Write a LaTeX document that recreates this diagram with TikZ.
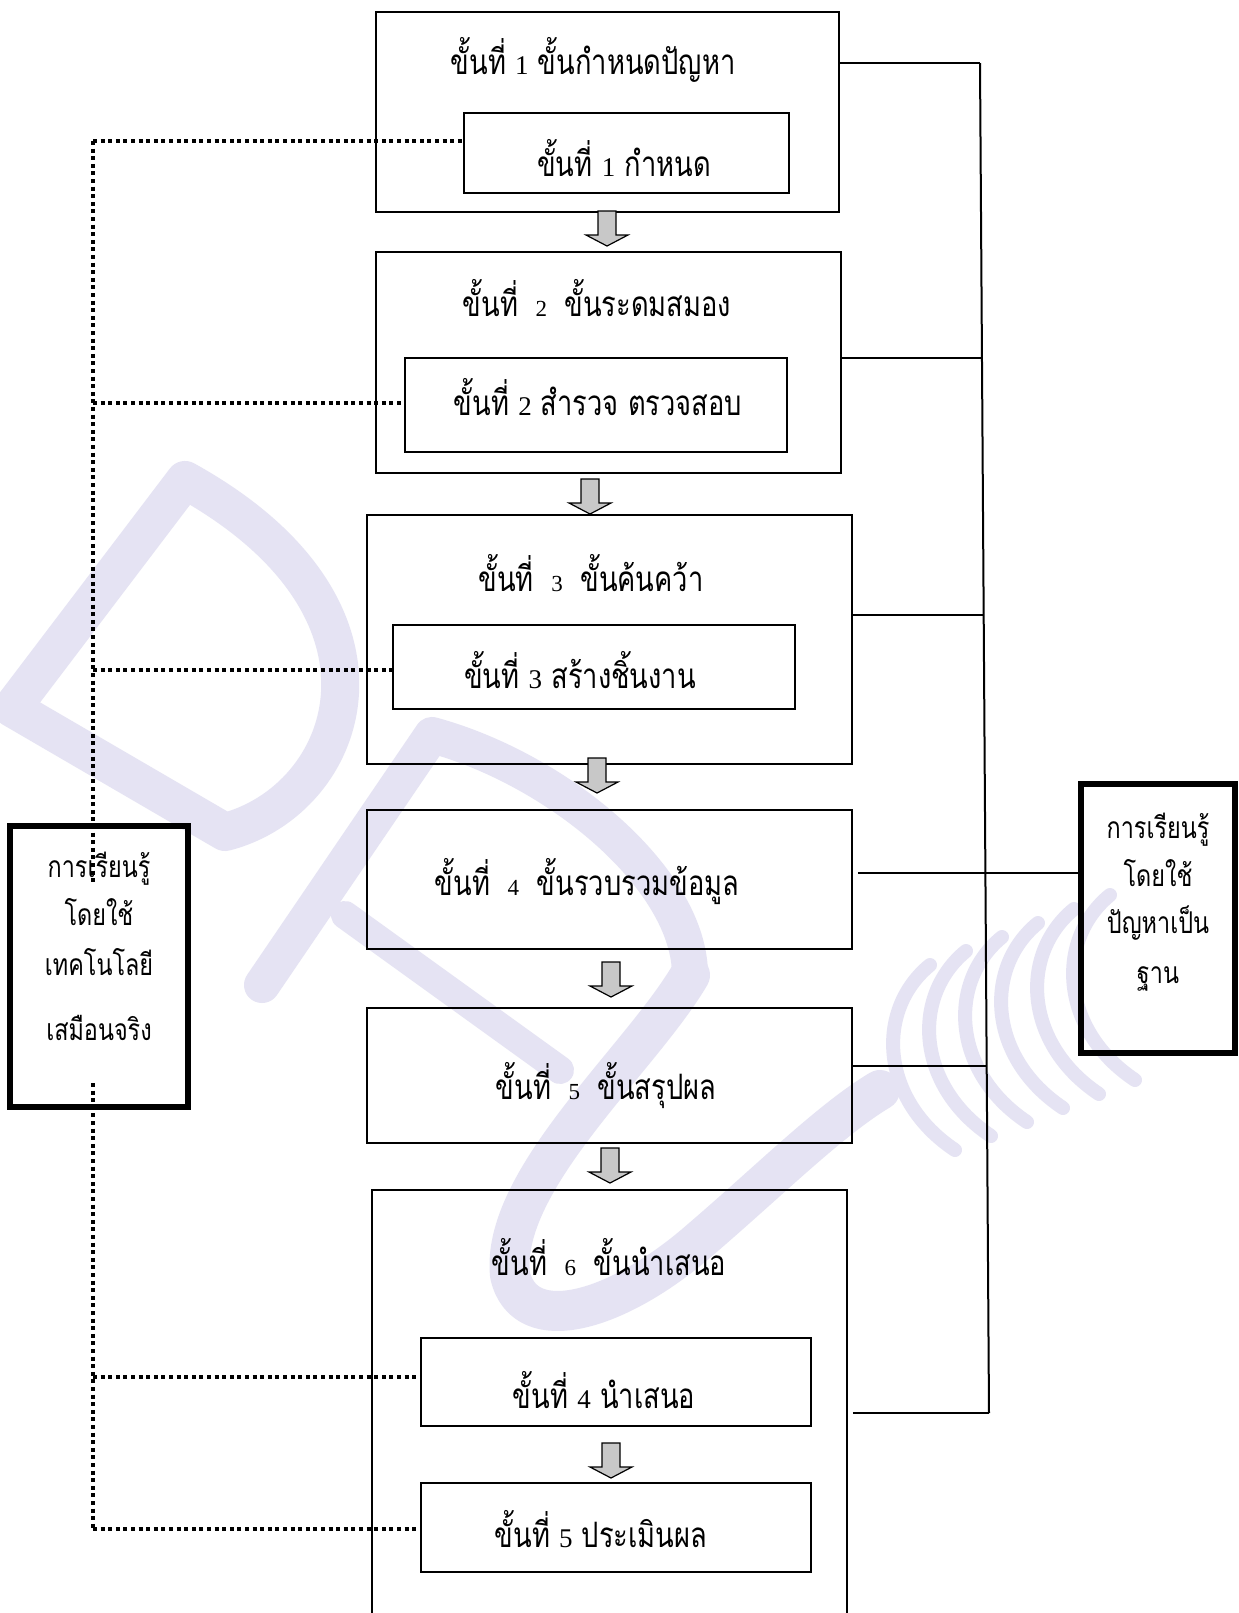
\documentclass[tikz,border=0pt]{standalone}
\usepackage{fontspec}
\setmainfont{Liberation Serif}
\newfontfamily\thaif[Script=Thai, FakeStretch=0.78]{Loma}
\newfontfamily\digf{Liberation Serif}
\usetikzlibrary{fit}
\definecolor{wm}{RGB}{229,227,243}
\definecolor{agray}{RGB}{200,200,200}
\newcommand\dg[1]{{\digf\fontsize{13.5}{15}\selectfont #1}}
\newcommand\dgs[1]{{\digf\fontsize{11.5}{13}\selectfont #1}}
\newcommand\wsp{\hspace{0.5em}}
\tikzset{
  mainbox/.style={draw, line width=0.8pt, inner sep=0pt},
  innerbox/.style={draw, line width=0.8pt, inner sep=0pt},
  sidebox/.style={draw, line width=2.6pt, inner sep=0pt},
  thtext/.style={font=\thaif\fontsize{17.5}{20}\selectfont, inner sep=0pt, anchor=base},
  sidetext/.style={font=\thaif\fontsize{15}{18}\selectfont, inner sep=0pt, anchor=base},
  link/.style={line width=0.75pt},
  dotline/.style={line width=2pt, dash pattern=on 2pt off 1.8pt},
  downarrow/.pic={\draw[fill=agray, line width=0.6pt, line join=miter]
     (-9,0) -- (9,0) -- (9,24) -- (21,24) -- (0,35) -- (-21,24) -- (-9,24) -- cycle;}
}
\begin{document}
\begin{tikzpicture}[x=0.5pt,y=-0.5pt]
\useasboundingbox (0,0) rectangle (1238,1613);
\fill[white] (0,0) rectangle (1238,1613);

% watermark (faint logo)
\begin{scope}[draw=wm, line join=round, line cap=round]
  % D
  \draw[line width=19pt] (185,480) -- (12,708) -- (225,832) .. controls (350,800) and (420,610) .. (185,480) -- cycle;
  % P
  \draw[line width=18pt] (262,985) -- (432,735) .. controls (560,770) and (690,880) .. (690,975);
  \draw[line width=14pt] (345,915) -- (560,1070);
  % U
  \draw[line width=20pt] (690,975) .. controls (640,1060) and (500,1180) .. (510,1275) .. controls (525,1340) and (620,1310) .. (700,1240) .. controls (770,1180) and (830,1120) .. (880,1090);
  % swirl
  \foreach \i in {0,...,5}{
    \draw[line width=7pt] (930+36*\i,965-14*\i) .. controls (875+36*\i,1010-14*\i) and (880+36*\i,1100-14*\i) .. (955+36*\i,1150-14*\i);
  }
\end{scope}

% main boxes
\node[mainbox, fit={(376,12) (839,212)}] (b1) {};
\node[innerbox, fit={(464,113) (789,193)}] (i1) {};
\node[mainbox, fit={(376,252) (841,473)}] (b2) {};
\node[innerbox, fit={(405,358) (787,452)}] (i2) {};
\node[mainbox, fit={(367,515) (852,764)}] (b3) {};
\node[innerbox, fit={(393,625) (795,709)}] (i3) {};
\node[mainbox, fit={(367,810) (852,949)}] (b4) {};
\node[mainbox, fit={(367,1008) (852,1143)}] (b5) {};
\node[mainbox, fit={(372,1190) (847,1640)}] (b6) {};
\node[innerbox, fit={(421,1338) (811,1426)}] (i4) {};
\node[innerbox, fit={(421,1483) (811,1572)}] (i5) {};

% texts
\node[thtext] (t1) at (593,74) {ขั้นที่ \dg{1} ขั้นกำหนดปัญหา};
\node[thtext] (s1) at (624,176) {ขั้นที่ \dg{1} กำหนด};
\node[thtext] (t2) at (597,316) {ขั้นที่\wsp\dgs{2}\wsp ขั้นระดมสมอง};
\node[thtext] (s2) at (598,415) {ขั้นที่ \dg{2} สำรวจ ตรวจสอบ};
\node[thtext] (t3) at (591,591) {ขั้นที่\wsp\dgs{3}\wsp ขั้นค้นคว้า};
\node[thtext] (s3) at (580,688) {ขั้นที่ \dg{3} สร้างชิ้นงาน};
\node[thtext] (t4) at (587,895) {ขั้นที่\wsp\dgs{4}\wsp ขั้นรวบรวมข้อมูล};
\node[thtext] (t5) at (606,1099) {ขั้นที่\wsp\dgs{5}\wsp ขั้นสรุปผล};
\node[thtext] (t6) at (609,1275) {ขั้นที่\wsp\dgs{6}\wsp ขั้นนำเสนอ};
\node[thtext] (s4) at (604,1408) {ขั้นที่ \dg{4} นำเสนอ};
\node[thtext] (s5) at (601,1547) {ขั้นที่ \dg{5} ประเมินผล};

% block arrows
\pic at (607,211) {downarrow};
\pic at (590,479) {downarrow};
\pic at (597,758) {downarrow};
\pic at (611,962) {downarrow};
\pic at (610,1148) {downarrow};
\pic at (611,1443) {downarrow};

% side boxes
\node[sidebox, fit={(10,826) (188,1107)}] (lbox) {};
\node[sidebox, fit={(1081,784) (1235,1053)}] (rbox) {};
\node[sidetext] (lt1) at (99,877) {การเรียนรู้};
\node[sidetext] (lt2) at (99,925) {โดยใช้};
\node[sidetext] (lt3) at (99,975) {เทคโนโลยี};
\node[sidetext] (lt4) at (99,1040) {เสมือนจริง};
\node[sidetext] (rt1) at (1158,838) {การเรียนรู้};
\node[sidetext] (rt2) at (1158,886) {โดยใช้};
\node[sidetext] (rt3) at (1158,933) {ปัญหาเป็น};
\node[sidetext] (rt4) at (1158,983) {ฐาน};

% right bracket
\coordinate (rtop) at (980,63);
\coordinate (rbot) at (989,1413);
\coordinate (r2) at (982,358);
\coordinate (r3) at (983.7,615);
\coordinate (r4) at (985.4,873);
\coordinate (r5) at (986.7,1066);
\draw[line width=1pt] (rtop) -- (rbot);
\draw[link] (rtop -| b1.east) -- (rtop);
\draw[link] (r2 -| b2.east) -- (r2);
\draw[link] (r3 -| b3.east) -- (r3);
\draw[link] ([xshift=2.5pt]r4 -| b4.east) -- (r4 -| rbox.west);
\draw[link] (r5 -| b5.east) -- (r5);
\draw[link] ([xshift=2.5pt]rbot -| b6.east) -- (rbot);

% left dotted connectors
\coordinate (l1) at (93,141);
\coordinate (l2) at (93,403);
\coordinate (l3) at (93,670);
\coordinate (l4) at (93,1377);
\coordinate (l5) at (93,1529);
\coordinate (lg1) at (93,883);
\coordinate (lg2) at (93,1083);
\draw[dotline] (l1) -- (lg1);
\draw[dotline] (lg2) -- (l5);
\draw[dotline] (l1) -- (l1 -| i1.west);
\draw[dotline] (l2) -- (l2 -| i2.west);
\draw[dotline] (l3) -- (l3 -| i3.west);
\draw[dotline] (l4) -- (l4 -| i4.west);
\draw[dotline] (l5) -- (l5 -| i5.west);
\end{tikzpicture}
\end{document}
